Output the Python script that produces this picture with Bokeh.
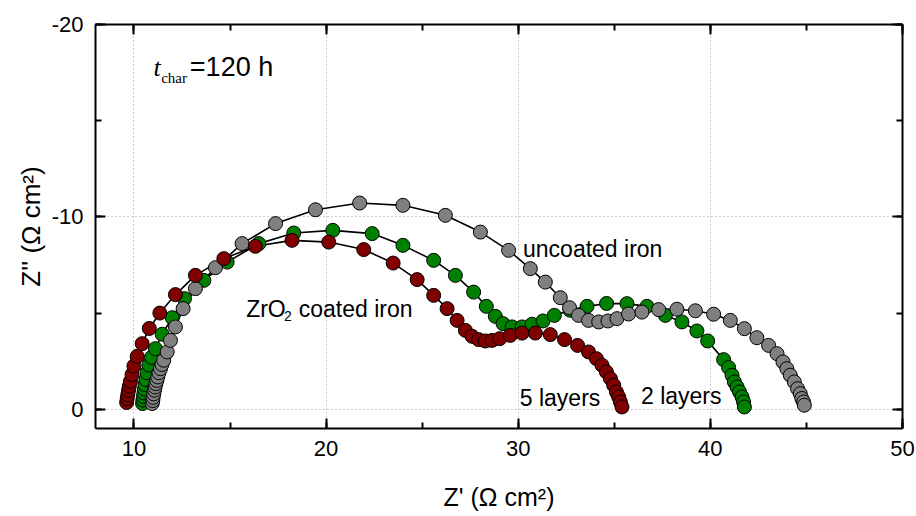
from bokeh.plotting import figure
from bokeh.models import Range1d, SingleIntervalTicker, LinearAxis, Label
from bokeh.embed import file_html
from bokeh.resources import INLINE

# uncoated iron (gray)
gray_x = [10.95, 10.98, 11.0, 11.03, 11.07, 11.1, 11.14, 11.19, 11.24, 11.3,
          11.38, 11.46, 11.55, 11.73, 11.9, 12.16, 12.56, 13.2, 14.24, 15.63,
          17.37, 19.45, 21.75, 24.0, 26.21, 28.03, 29.5, 30.63, 31.41, 32.19,
          32.67, 33.14, 33.66, 34.19, 34.67, 35.14, 35.74, 36.44, 37.31, 38.26,
          39.22, 40.17, 41.04, 41.77, 42.42, 43.03, 43.47, 43.78, 43.98, 44.16,
          44.37, 44.54, 44.68, 44.76, 44.85, 44.89]
gray_y = [-0.3, -0.45, -0.62, -0.8, -0.99, -1.16, -1.33, -1.5, -1.68, -1.9,
          -2.11, -2.33, -2.55, -2.98, -3.58, -4.28, -5.23, -6.27, -7.36, -8.61,
          -9.65, -10.37, -10.72, -10.6, -10.08, -9.21, -8.26, -7.31, -6.61, -5.8,
          -5.28, -4.88, -4.62, -4.54, -4.59, -4.71, -4.95, -5.05, -5.18, -5.2,
          -5.12, -4.94, -4.62, -4.19, -3.72, -3.32, -2.89, -2.46, -2.11, -1.77,
          -1.42, -1.07, -0.81, -0.56, -0.38, -0.21]

# ZrO2 2 layers (green)
green_x = [10.45, 10.47, 10.5, 10.52, 10.55, 10.58, 10.62, 10.68, 10.78, 10.92,
           11.12, 11.47, 11.99, 12.63, 13.64, 14.85, 16.5, 18.32, 20.35, 22.4,
           24.0, 25.6, 26.73, 27.68, 28.34, 28.81, 29.21, 29.68, 30.2, 30.72,
           31.29, 31.88, 32.7, 33.58, 34.6, 35.66, 36.7, 37.66, 38.52, 39.3,
           39.86, 40.69, 40.95, 41.13, 41.25, 41.39, 41.52, 41.65, 41.73, 41.77]
green_y = [-0.3, -0.48, -0.66, -0.85, -1.05, -1.28, -1.55, -1.9, -2.3, -2.7,
           -3.15, -3.9, -4.76, -5.75, -6.7, -7.65, -8.61, -9.16, -9.3, -9.13,
           -8.52, -7.74, -6.96, -6.09, -5.35, -4.83, -4.45, -4.28, -4.28, -4.42,
           -4.59, -4.88, -5.15, -5.35, -5.5, -5.49, -5.35, -4.88, -4.54, -4.07,
           -3.55, -2.58, -2.17, -1.77, -1.42, -1.16, -0.9, -0.64, -0.38, -0.12]

# ZrO2 5 layers (dark red)
red_x = [9.62, 9.65, 9.68, 9.72, 9.76, 9.82, 9.9, 10.0, 10.17, 10.43,
         10.8, 11.35, 12.16, 13.2, 14.68, 16.32, 18.23, 20.14, 21.96, 23.49,
         24.74, 25.6, 26.3, 26.82, 27.25, 27.6, 27.94, 28.29, 28.64, 29.04,
         29.59, 30.2, 30.89, 31.67, 32.41, 33.09, 33.66, 34.07, 34.36, 34.59,
         34.8, 34.97, 35.11, 35.23, 35.32, 35.4]
red_y = [-0.35, -0.55, -0.75, -0.98, -1.2, -1.45, -1.8, -2.25, -2.75, -3.41,
         -4.2, -5.0, -5.96, -6.96, -7.83, -8.47, -8.78, -8.69, -8.3, -7.6,
         -6.74, -5.92, -5.23, -4.62, -4.1, -3.79, -3.62, -3.55, -3.58, -3.67,
         -3.84, -3.96, -3.96, -3.88, -3.62, -3.32, -2.98, -2.63, -2.29, -1.94,
         -1.59, -1.25, -0.9, -0.64, -0.38, -0.12]

y_tick_values = [-20, -10, 0]
y_tick_labels = ["-20", "-10", "0"]

p = figure(width=916, height=516, x_range=Range1d(8, 50), y_range=Range1d(1, -20),
           output_backend="svg", toolbar_location=None,
           min_border_left=95, min_border_right=14, min_border_top=24, min_border_bottom=88,
           x_axis_label="Z' (Ω cm²)", y_axis_label="Z'' (Ω cm²)")
p.background_fill_color = "white"
p.border_fill_color = "white"
p.outline_line_color = None

bottom = p.below[0]
left = p.left[0]

xt = SingleIntervalTicker(interval=10, num_minor_ticks=2)
yt = SingleIntervalTicker(interval=10, num_minor_ticks=2)
bottom.ticker = xt
left.ticker = yt
p.xgrid.ticker = xt
p.ygrid.ticker = yt
top = LinearAxis(ticker=xt)
right = LinearAxis(ticker=yt)
p.add_layout(top, "above")
p.add_layout(right, "right")

for ax in (bottom, left, top, right):
    ax.axis_line_width = 2
    ax.axis_line_color = "black"
    ax.major_tick_in = 10
    ax.major_tick_out = 0
    ax.minor_tick_in = 6
    ax.minor_tick_out = 0
    ax.major_tick_line_width = 2
    ax.minor_tick_line_width = 2
    ax.major_tick_line_color = "black"
    ax.minor_tick_line_color = "black"
    ax.major_label_text_font = "Liberation Sans"
    ax.major_label_text_font_size = "22px"
    ax.major_label_text_color = "black"
    ax.major_label_standoff = 12
    ax.axis_label_text_font = "Liberation Sans"
    ax.axis_label_text_font_style = "normal"
    ax.axis_label_text_color = "black"
bottom.axis_label_text_font_size = "25px"
left.axis_label_text_font_size = "26px"
bottom.axis_label_standoff = 24
left.axis_label_standoff = 3
left.major_label_overrides = dict(zip(y_tick_values, y_tick_labels))
for ax in (top, right):
    ax.major_label_text_color = None
    ax.major_label_text_font_size = "1px"
    ax.major_label_standoff = 0

for g in (p.xgrid, p.ygrid):
    g.grid_line_color = "#9a9a9a"
    g.grid_line_dash = "1 3"
    g.grid_line_width = 1

# fit lines
for xs, ys in ((green_x, green_y), (gray_x, gray_y), (red_x, red_y)):
    p.line(xs, ys, line_color="black", line_width=1.6)

# markers
for xs, ys, col in ((green_x, green_y, "#008000"), (gray_x, gray_y, "#808080"),
                    (red_x, red_y, "#800000")):
    p.scatter(xs, ys, size=14, fill_color=col, line_color="black", line_width=1)

def lab(x, y, text, size="23px", font="Liberation Sans", style="normal"):
    p.add_layout(Label(x=x, y=y, text=text, text_font=font, text_font_size=size,
                       text_font_style=style, text_color="black",
                       text_baseline="alphabetic", text_align="left"))

lab(11.02, -17.78, "t", size="26px", font="Liberation Serif", style="italic")
lab(11.42, -17.21, "char", size="15px", font="Liberation Serif")
lab(12.91, -17.78, "=120 h", size="27px")
lab(15.84, -5.23, "ZrO")
lab(17.81, -4.83, "2", size="14px")
lab(18.58, -5.23, "coated iron")
lab(30.25, -8.35, "uncoated iron")
lab(30.08, -0.56, "5 layers")
lab(36.39, -0.69, "2 layers")

open("out.html", "w").write(file_html(p, INLINE))
